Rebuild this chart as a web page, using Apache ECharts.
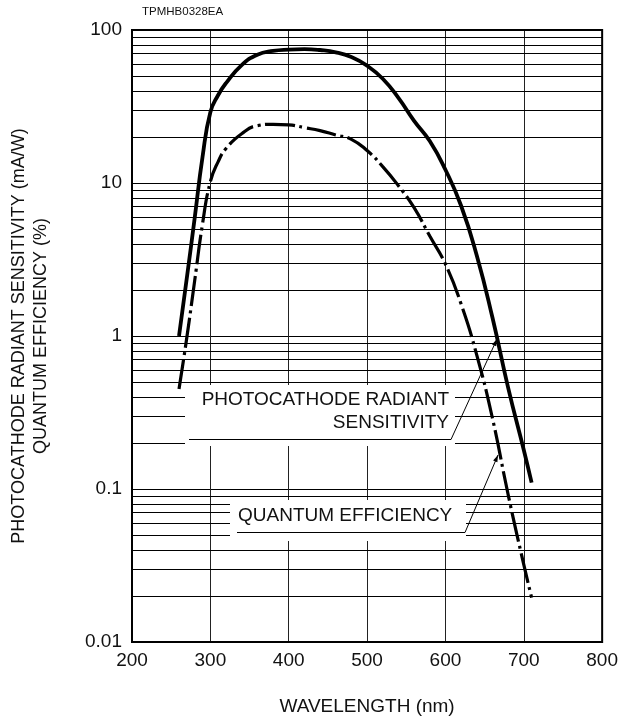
<!DOCTYPE html>
<html>
<head>
<meta charset="utf-8">
<title>Spectral response</title>
<script src="https://cdn.jsdelivr.net/npm/echarts@6/dist/echarts.min.js"></script>
<style>
html, body { margin: 0; padding: 0; background: #fff; }
#main { width: 621px; height: 721px; }
</style>
</head>
<body>
<div id="main"></div>
<script>
// photocathode radiant sensitivity (mA/W) - solid curve
var sensWl  = [260, 270, 280, 290, 300, 310, 320, 340, 360, 380, 400, 420, 440, 460, 480, 500, 520, 540, 560, 580, 600, 620, 640, 660, 680, 700, 710];
var sensVal = [1, 2.4, 5.9, 14.8, 29, 37.6, 45, 59, 69, 73, 74.5, 75, 74, 71.5, 66.5, 58.5, 48, 36, 25.5, 18.8, 12.2, 7.1, 3.36, 1.32, 0.46, 0.18, 0.11];

// quantum efficiency (%) - dash-dot curve
var qeWl  = [260, 270, 280, 290, 300, 310, 320, 340, 360, 380, 400, 420, 440, 460, 480, 500, 520, 540, 560, 580, 600, 620, 640, 660, 680, 700, 710];
var qeVal = [0.45, 0.98, 2.3, 5.4, 10.2, 13.8, 16.8, 21, 23.7, 24.2, 24, 23, 22, 20.6, 19.3, 16.3, 12.8, 9.6, 6.9, 4.5, 2.95, 1.62, 0.75, 0.29, 0.092, 0.032, 0.0195];

// minor horizontal grid (2..9 in every decade)
var minorGrid = [0.02, 0.03, 0.04, 0.05, 0.06, 0.07, 0.08, 0.09,
                 0.2, 0.3, 0.4, 0.5, 0.6, 0.7, 0.8, 0.9,
                 2, 3, 4, 5, 6, 7, 8, 9,
                 20, 30, 40, 50, 60, 70, 80, 90];

function pairs(xs, ys) {
  var out = [];
  for (var i = 0; i < xs.length; i++) out.push([xs[i], ys[i]]);
  return out;
}

// little arrow head at the end of a leader line
function arrowHead(x0, y0, x1, y1) {
  var dx = x1 - x0, dy = y1 - y0, len = Math.sqrt(dx * dx + dy * dy);
  var ux = dx / len, uy = dy / len, L = 7, W = 2.3;
  var bx = x1 - ux * L, by = y1 - uy * L;
  return {
    type: 'polygon', z: 12,
    shape: { points: [[x1, y1], [bx - uy * W, by + ux * W], [bx + uy * W, by - ux * W]] },
    style: { fill: '#000' }
  };
}

var font = 'Liberation Sans, Arial, sans-serif';
var chart = echarts.init(document.getElementById('main'));

var option = {
  animation: false,
  backgroundColor: '#fff',
  grid: { left: 131, top: 30, width: 472, height: 612, show: true, borderColor: '#000', borderWidth: 2, z: 4 },
  xAxis: {
    type: 'value', min: 200, max: 800, interval: 100,
    name: 'WAVELENGTH (nm)', nameLocation: 'middle', nameGap: 55,
    nameTextStyle: { fontFamily: font, fontSize: 19, color: '#111' },
    axisLine: { show: false }, axisTick: { show: false },
    axisLabel: { fontFamily: font, fontSize: 19, color: '#111', margin: 9 },
    splitLine: { show: true, lineStyle: { color: '#222', width: 1 } }
  },
  yAxis: {
    type: 'log', logBase: 10, min: 0.01, max: 100,
    name: 'PHOTOCATHODE RADIANT SENSITIVITY (mA/W)\nQUANTUM EFFICIENCY (%)',
    nameLocation: 'middle', nameGap: 80,
    nameTextStyle: { fontFamily: font, fontSize: 18, lineHeight: 22, color: '#111' },
    axisLine: { show: false }, axisTick: { show: false },
    axisLabel: {
      fontFamily: font, fontSize: 19, color: '#111', margin: 10,
      formatter: function (v) { return String(parseFloat(v.toPrecision(3))); }
    },
    splitLine: { show: true, lineStyle: { color: '#000', width: 1 } }
  },
  series: [
    {
      // carries the minor grid lines only
      type: 'line', data: [[200, 1]], symbol: 'none', lineStyle: { opacity: 0 }, z: 1, silent: true,
      markLine: {
        silent: true, z: 1, symbol: ['none', 'none'], label: { show: false },
        lineStyle: { color: '#000', width: 1, type: 'solid' },
        emphasis: { disabled: true },
        data: minorGrid.map(function (v) { return { yAxis: v }; })
      }
    },
    {
      name: 'Radiant sensitivity', type: 'line', z: 10,
      data: pairs(sensWl, sensVal),
      smooth: 0.5, symbol: 'none',
      lineStyle: { color: '#000', width: 3.8, cap: 'butt' }
    },
    {
      name: 'Quantum efficiency', type: 'line', z: 10,
      data: pairs(qeWl, qeVal),
      smooth: 0.5, symbol: 'none',
      lineStyle: { color: '#000', width: 3.2, type: [30, 4.5, 3, 4.5], cap: 'butt' }
    }
  ],
  graphic: [
    { type: 'text', left: 142, top: 6, z: 12,
      style: { text: 'TPMHB0328EA', font: '11.5px ' + font, fill: '#111' } },
    // white boxes that break the grid behind the labels
    { type: 'rect', z: 8, shape: { x: 185, y: 385, width: 270, height: 61 }, style: { fill: '#fff' } },
    { type: 'rect', z: 8, shape: { x: 230, y: 500, width: 236, height: 41 }, style: { fill: '#fff' } },
    { type: 'text', z: 12, x: 449, y: 400,
      style: { text: 'PHOTOCATHODE RADIANT', font: '19px ' + font, fill: '#111', align: 'right', verticalAlign: 'middle' } },
    { type: 'text', z: 12, x: 449, y: 423,
      style: { text: 'SENSITIVITY', font: '19px ' + font, fill: '#111', align: 'right', verticalAlign: 'middle' } },
    { type: 'polyline', z: 12, shape: { points: [[189, 439.5], [451, 439.5], [497, 339]] },
      style: { stroke: '#000', lineWidth: 1, fill: null } },
    arrowHead(451, 439.5, 497, 339),
    { type: 'text', z: 12, x: 238, y: 516,
      style: { text: 'QUANTUM EFFICIENCY', font: '19px ' + font, fill: '#111', align: 'left', verticalAlign: 'middle' } },
    { type: 'polyline', z: 12, shape: { points: [[237, 532.5], [465, 532.5], [498, 455]] },
      style: { stroke: '#000', lineWidth: 1, fill: null } },
    arrowHead(465, 532.5, 498, 455)
  ]
};

chart.setOption(option);
</script>
</body>
</html>
